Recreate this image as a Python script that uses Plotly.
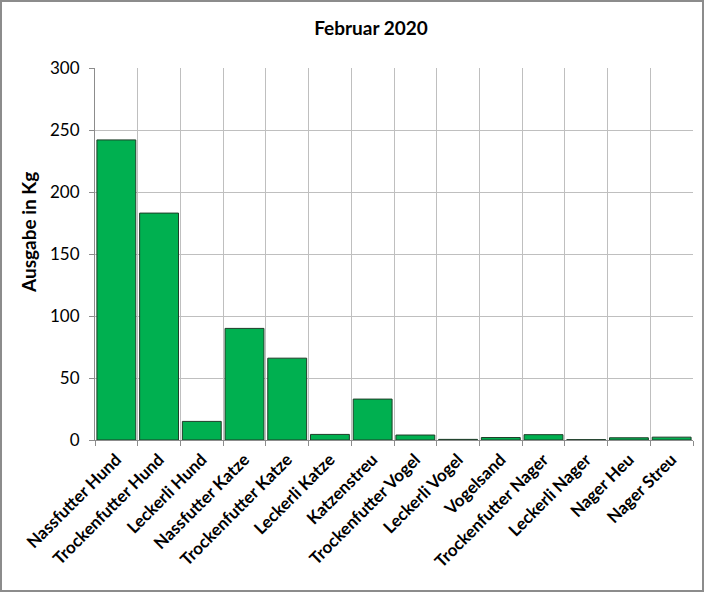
import plotly.graph_objects as go

# Februar 2020 - Ausgabe je Artikel
categories = [
    "Nassfutter Hund", "Trockenfutter Hund", "Leckerli Hund",
    "Nassfutter Katze", "Trockenfutter Katze", "Leckerli Katze",
    "Katzenstreu", "Trockenfutter Vogel", "Leckerli Vogel", "Vogelsand",
    "Trockenfutter Nager", "Leckerli Nager", "Nager Heu", "Nager Streu",
]
ausgabe_kg = [242, 183, 15, 90, 66, 4.5, 33, 4, 0.5, 2, 4.3, 0.3, 1.8, 2.3]
y_ticks = [0, 50, 100, 150, 200, 250, 300]

W, H = 704, 592
ml, mr, mt, mb = 95, 11, 68, 152
pw, ph = W - ml - mr, H - mt - mb

font_family = "Lato, 'Open Sans', sans-serif"

fig = go.Figure()

fig.add_trace(go.Bar(
    x=categories,
    y=ausgabe_kg,
    marker=dict(color="#00B050", line=dict(color="#1e3d28", width=1)),
    hoverinfo="x+y",
))

# grey frame around the whole chart area
fig.add_shape(
    type="rect", xref="paper", yref="paper", layer="above",
    x0=-(ml - 1) / pw, x1=1 + (mr - 1) / pw,
    y0=-(mb - 1) / ph, y1=1 + (mt - 1) / ph,
    line=dict(color="#8c8c8c", width=2),
)

# y axis title (sits a bit above the plot centre, like in Excel)
fig.add_annotation(
    text="<b>Ausgabe in Kg</b>", textangle=-90,
    xref="paper", yref="paper", x=-(ml - 28) / pw, y=(440 - 233) / ph,
    xanchor="center", yanchor="middle", showarrow=False,
    font=dict(size=19, color="black", family=font_family),
)

fig.update_layout(
    width=W, height=H,
    margin=dict(l=ml, r=mr, t=mt, b=mb),
    title=dict(text="<b>Februar 2020</b>", x=371 / W,
               xanchor="center", y=1 - 28 / H, yanchor="middle",
               font=dict(size=19, color="black", family=font_family)),
    plot_bgcolor="white",
    paper_bgcolor="white",
    bargap=0.09,
    showlegend=False,
    font=dict(family=font_family, color="black"),
    xaxis=dict(
        tickson="boundaries",
        showgrid=True, gridcolor="#bfbfbf", gridwidth=1,
        ticks="outside", ticklen=5, tickcolor="#8c8c8c",
        showline=True, linecolor="#8c8c8c", linewidth=1,
        tickangle=-45,
        tickfont=dict(size=17, color="black", family=font_family),
        ticklabelstandoff=2,
    ),
    yaxis=dict(
        range=[0, 300],
        tickvals=y_ticks,
        showgrid=True, gridcolor="#bfbfbf", gridwidth=1,
        ticks="outside", ticklen=5, tickcolor="#8c8c8c",
        showline=True, linecolor="#8c8c8c", linewidth=1,
        zeroline=False,
        tickfont=dict(size=17, color="black", family=font_family),
        ticklabelstandoff=6,
    ),
)

# tick labels bold
fig.update_xaxes(ticktext=["<b>%s</b>" % c for c in categories], tickvals=categories)

fig.write_html("out.html", config={"displayModeBar": False},
               post_script="document.body.style.margin='0';")
